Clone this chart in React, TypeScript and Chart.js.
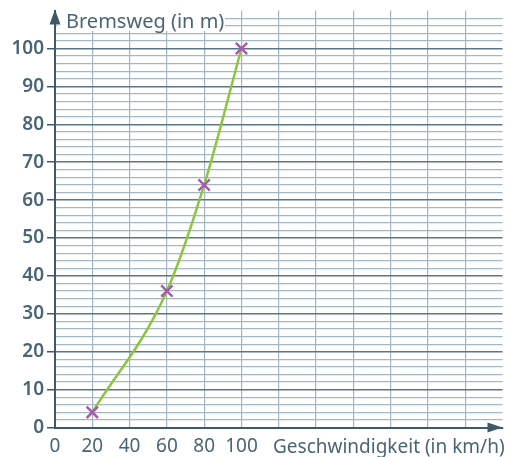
import { useEffect, useRef } from "react";
import { Chart, registerables } from "chart.js";

Chart.register(...registerables);

const speeds = [20, 60, 80, 100];
const distances = [4, 36, 64, 100];
const xTickLabels = [0, 20, 40, 60, 80, 100];
const yTickLabels = [0, 10, 20, 30, 40, 50, 60, 70, 80, 90, 100];
const xTitle = "Geschwindigkeit (in km/h)";
const yTitle = "Bremsweg (in m)";

const AXIS = "#3e5a69";
const TEXT = "#4a6573";
const MAJOR = "#5d7685";
const MINOR = "#a3b6c1";
const FONT = "'Noto Sans', 'Open Sans', sans-serif";

const decorPlugin = {
  id: "decor",
  afterDraw(chart: any) {
    const { ctx, chartArea } = chart;
    const { left, right, top, bottom } = chartArea;
    ctx.save();
    ctx.fillStyle = "#ffffff";
    ctx.fillRect(left + 2, 0, 168, 31);
    ctx.fillStyle = TEXT;
    ctx.font = `20px ${FONT}`;
    ctx.textBaseline = "alphabetic";
    ctx.textAlign = "left";
    ctx.fillText(yTitle, left + 11, 28);
    ctx.fillStyle = AXIS;
    ctx.beginPath();
    ctx.moveTo(left, top - 1);
    ctx.lineTo(left - 5.5, top + 14);
    ctx.lineTo(left + 5.5, top + 14);
    ctx.closePath();
    ctx.fill();
    ctx.beginPath();
    ctx.moveTo(right, bottom);
    ctx.lineTo(right - 15, bottom - 5);
    ctx.lineTo(right - 15, bottom + 5);
    ctx.closePath();
    ctx.fill();
    ctx.fillStyle = TEXT;
    ctx.font = `19px ${FONT}`;
    ctx.textAlign = "left";
    ctx.textBaseline = "alphabetic";
    ctx.fillText(xTitle, 273, 453);
    ctx.restore();
  },
};

export default function App() {
  const ref = useRef<HTMLCanvasElement>(null);
  useEffect(() => {
    document.body.style.margin = "0";
    const chart = new Chart(ref.current!, {
      type: "line",
      data: {
        datasets: [
          {
            data: speeds.map((s, i) => ({ x: s, y: distances[i] })),
            borderColor: "#8cc63f",
            borderWidth: 2.5,
            cubicInterpolationMode: "monotone",
            pointStyle: "crossRot",
            pointRadius: 8,
            pointBorderWidth: 2.5,
            pointBorderColor: "#a65caa",
            pointBackgroundColor: "#a65caa",
          },
        ],
      },
      options: {
        animation: false,
        responsive: false,
        maintainAspectRatio: false,
        layout: { padding: { top: 10.6, right: 5, left: 0, bottom: 0 } },
        plugins: { legend: { display: false }, tooltip: { enabled: false } },
        scales: {
          x: {
            type: "linear",
            min: 0,
            max: 240,
            afterFit: (s: any) => {
              s.height = 29.5;
              s.paddingLeft = 0;
              s.paddingRight = 0;
            },
            ticks: {
              stepSize: 20,
              autoSkip: false,
              maxRotation: 0,
              padding: 8,
              color: TEXT,
              font: { family: FONT, size: 19 },
              callback: (v: any) => (xTickLabels.includes(v) ? String(v) : ""),
            },
            grid: {
              drawTicks: false,
              color: (c: any) => (c.tick && c.tick.value >= 240 ? "rgba(0,0,0,0)" : MINOR),
              lineWidth: 1.2,
            },
            border: { color: AXIS, width: 2 },
          },
          y: {
            type: "linear",
            min: 0,
            max: 110,
            afterFit: (s: any) => {
              s.width = 55;
              s.paddingTop = 0;
              s.paddingBottom = 0;
            },
            ticks: {
              stepSize: 2,
              autoSkip: false,
              padding: 3,
              color: TEXT,
              font: { family: FONT, size: 19, weight: "600" },
              callback: (v: any) => (yTickLabels.includes(v) ? String(v) : ""),
            },
            grid: {
              tickLength: 8,
              color: (c: any) => {
                const v = c.tick ? c.tick.value : 0;
                if (v >= 110) return "rgba(0,0,0,0)";
                return v % 10 === 0 ? MAJOR : MINOR;
              },
              tickColor: (c: any) => {
                const v = c.tick ? c.tick.value : 0;
                return yTickLabels.includes(v) ? AXIS : "rgba(0,0,0,0)";
              },
              lineWidth: (c: any) => {
                const v = c.tick ? c.tick.value : 0;
                return v % 10 === 0 ? 1.5 : 1.2;
              },
            },
            border: { color: AXIS, width: 2 },
          },
        },
      },
      plugins: [decorPlugin],
    } as any);
    return () => chart.destroy();
  }, []);
  return (
    <div style={{ width: 513, height: 457 }}>
      <canvas ref={ref} width={513} height={457} style={{ width: 513, height: 457, display: "block" }} />
    </div>
  );
}
